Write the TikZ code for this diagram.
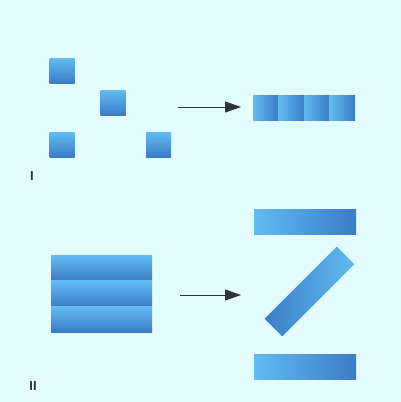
\documentclass[tikz,border=0pt]{standalone}
\usepackage{fontspec}
\setsansfont{Liberation Sans}
\usetikzlibrary{arrows.meta}
\definecolor{bgc}{HTML}{E2FCFF}
\definecolor{bluel}{HTML}{62BCF2}
\definecolor{blued}{HTML}{3A7CC6}
\definecolor{arrc}{HTML}{2E3438}
\begin{document}
\begin{tikzpicture}[x=1pt,y=-1pt,
  sq/.style={inner sep=0pt,minimum size=25pt,top color=bluel,bottom color=blued,draw=none},
  seg/.style={inner sep=0pt,minimum width=25.5pt,minimum height=25pt,left color=bluel,right color=blued,draw=none},
  strip/.style={inner sep=0pt,minimum width=101pt,minimum height=25.7pt,top color=bluel,bottom color=blued,draw=none},
  bar/.style={inner sep=0pt,minimum width=102pt,minimum height=25pt,left color=bluel,right color=blued,draw=none},
  lab/.style={font=\sffamily\bfseries\fontsize{13}{13}\selectfont,text=arrc,inner sep=0pt},
  conn/.style={draw=arrc,line width=1pt,-{Triangle[length=16pt,width=11pt]}}]
\fill[bgc] (0,0) rectangle (401,402);
\useasboundingbox (0,0) rectangle (401,402);
% part I
\node[sq] (s1) at (62,70.5) {};
\node[sq] (s2) at (113,102.5) {};
\node[sq] (s3) at (62,144.5) {};
\node[sq] (s4) at (158.5,144.5) {};
\node[seg] (b1) at (265.75,107.5) {};
\node[seg] (b2) at (291.25,107.5) {};
\node[seg] (b3) at (316.75,107.5) {};
\node[seg] (b4) at (342.25,107.5) {};
\coordinate (a1s) at (178,107);
\coordinate (a1e) at (241,107);
\draw[conn] (a1s) -- (a1e);
\node[lab] (l1) at (32,176) {I};
% part II
\node[strip] (t1) at (101.5,267.85) {};
\node[strip] (t2) at (101.5,293.55) {};
\node[strip] (t3) at (101.5,319.2) {};
\node[bar,left color=bluel,right color=blued] (r1) at (305,221.5) {};
\node[bar,rotate=45,left color=blued,right color=bluel] (r2) at (309.5,291.5) {};
\node[bar,left color=bluel,right color=blued] (r3) at (305,366.5) {};
\coordinate (a2s) at (180,295);
\coordinate (a2e) at (241,295);
\draw[conn] (a2s) -- (a2e);
\node[lab] (l2) at (33,386) {II};
\end{tikzpicture}
\end{document}
